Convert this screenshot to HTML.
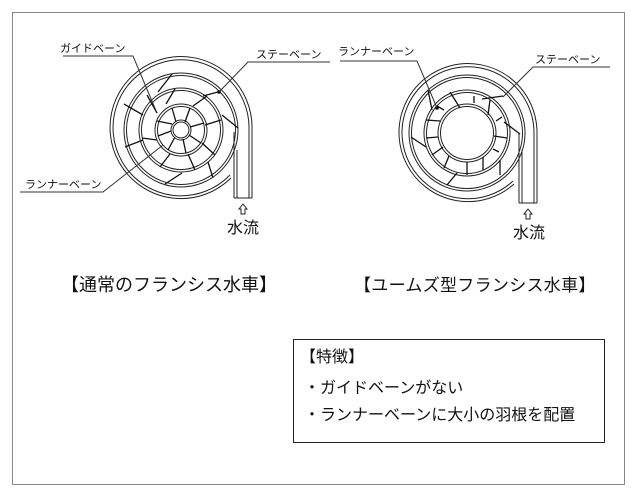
<!DOCTYPE html>
<html><head><meta charset="utf-8"><style>
html,body{margin:0;padding:0;background:#fff;}
svg{display:block;}
text{font-family:"Liberation Sans","Noto Sans CJK JP",sans-serif;fill:#111;}
</style></head><body>
<svg width="640" height="500" viewBox="0 0 640 500" xmlns="http://www.w3.org/2000/svg">
<rect x="12.5" y="12.5" width="612" height="472" fill="none" stroke="#888" stroke-width="1"/>

<!-- LEFT DIAGRAM -->
<g fill="none" stroke="#222" stroke-width="1">
  <path d="M252,198 L252,130 A71,71 0 1,0 231,178"/>
  <path d="M249,198 L249,130 A68,68 0 1,0 230,175"/>
  <path d="M234,198 L234,132"/>
  <path d="M237,198 L237,150"/>
  <line x1="234" y1="198" x2="252" y2="198"/>
  <circle cx="181" cy="130" r="57"/>
  <circle cx="181" cy="130" r="54.5"/>
  <circle cx="181" cy="130" r="42"/>
  <circle cx="181" cy="130" r="39.5"/>
  <circle cx="181" cy="130" r="26"/>
  <circle cx="181" cy="130" r="23.5"/>
  <circle cx="181" cy="130" r="10"/>
  <circle cx="181" cy="130" r="8"/>
</g>
<g stroke="#111" stroke-width="1.3">
  <line x1="172" y1="74" x2="158" y2="92"/>
  <line x1="124" y1="104" x2="143" y2="115"/>
  <line x1="125" y1="147" x2="143" y2="140"/>
  <line x1="165" y1="184" x2="182" y2="173"/>
  <line x1="218" y1="92" x2="203" y2="96"/>
  <line x1="238" y1="128" x2="222" y2="115"/>
  <line x1="213" y1="178" x2="208" y2="162"/>
  <line x1="157" y1="113" x2="147" y2="95"/>
  <line x1="166" y1="104" x2="175" y2="89"/>
  <line x1="193" y1="106" x2="207" y2="96"/>
  <line x1="205" y1="125" x2="221" y2="120"/>
  <line x1="202" y1="143" x2="215" y2="155"/>
  <line x1="188" y1="154" x2="195" y2="170"/>
  <line x1="170" y1="154" x2="160" y2="167"/>
  <line x1="157" y1="140" x2="142" y2="138"/>
  <line x1="172" y1="124" x2="157" y2="121"/>
  <line x1="176" y1="122" x2="172" y2="108"/>
  <line x1="185" y1="122" x2="190" y2="108"/>
  <line x1="190" y1="127" x2="204" y2="123"/>
  <line x1="189" y1="135" x2="201" y2="143"/>
  <line x1="183" y1="139" x2="186" y2="153"/>
  <line x1="175" y1="137" x2="168" y2="150"/>
  <line x1="171" y1="131" x2="158" y2="136"/>
</g>
<g stroke="#333" stroke-width="1" fill="none">
  <polyline points="63,56 133,56 157,113"/>
  <polyline points="330,62 248,62 219,92"/>
  <polyline points="20,192 103,192 163,145"/>
</g>
<circle cx="219" cy="92" r="1.8" fill="#111"/>
<text x="60" y="52" font-size="11">ガイドベーン</text>
<text x="256" y="58" font-size="11">ステーベーン</text>
<text x="25" y="188" font-size="11">ランナーベーン</text>
<path d="M243,204 L247,209 L245,209 L245,214 L241,214 L241,209 L239,209 Z" fill="none" stroke="#222" stroke-width="1"/>
<text x="227" y="233" font-size="16">水流</text>

<!-- RIGHT DIAGRAM -->
<g fill="none" stroke="#222" stroke-width="1">
  <path d="M537,203 L537,133 A69,69 0 1,0 514,184"/>
  <path d="M534,203 L534,133 A66,66 0 1,0 513,181"/>
  <path d="M519,203 L519,133"/>
  <path d="M522,203 L522,150"/>
  <line x1="519" y1="203" x2="537" y2="203"/>
  <circle cx="467" cy="133" r="58"/>
  <circle cx="467" cy="133" r="55.5"/>
  <circle cx="467" cy="133" r="43"/>
  <circle cx="467" cy="133" r="40.5"/>
  <circle cx="467" cy="133" r="29"/>
  <circle cx="467" cy="133" r="26.5"/>
</g>
<g stroke="#111" stroke-width="1.3">
  <line x1="428" y1="90" x2="432" y2="110"/>
  <line x1="411" y1="137" x2="426" y2="147"/>
  <line x1="447" y1="185" x2="457" y2="173"/>
  <line x1="503" y1="96" x2="482" y2="99"/>
  <line x1="520" y1="134" x2="504" y2="122"/>
  <line x1="500" y1="175" x2="500" y2="160"/>
  <line x1="450" y1="92" x2="460" y2="108"/>
  <line x1="490" y1="100" x2="488" y2="115"/>
  <line x1="507" y1="138" x2="494" y2="136"/>
  <line x1="483" y1="170" x2="483" y2="157"/>
  <line x1="444" y1="168" x2="449" y2="156"/>
  <line x1="426" y1="120" x2="440" y2="121"/>
  <line x1="432" y1="155" x2="443" y2="147"/>
  <line x1="437" y1="106" x2="444" y2="110"/>
  <line x1="474" y1="96" x2="474" y2="103"/>
  <line x1="502" y1="117" x2="496" y2="121"/>
  <line x1="499" y1="152" x2="493" y2="149"/>
  <line x1="467" y1="175" x2="467" y2="162"/>
  <line x1="426" y1="138" x2="438" y2="137"/>
</g>
<g stroke="#333" stroke-width="1" fill="none">
  <polyline points="340,61 417,61 437,108"/>
  <polyline points="610,67 533,67 503,97"/>
</g>
<circle cx="437" cy="108" r="1.8" fill="#111"/>
<text x="338" y="55" font-size="11">ランナーベーン</text>
<text x="535" y="63" font-size="11">ステーベーン</text>
<path d="M528,209 L532,214 L530,214 L530,219 L526,219 L526,214 L524,214 Z" fill="none" stroke="#222" stroke-width="1"/>
<text x="513" y="238" font-size="16">水流</text>

<!-- titles -->
<text x="61" y="291" font-size="18">【通常のフランシス水車】</text>
<text x="354" y="291" font-size="17" letter-spacing="0.3">【ユームズ型フランシス水車】</text>

<!-- feature box -->
<rect x="293.5" y="339.5" width="311" height="103" fill="#fff" stroke="#222" stroke-width="1"/>
<text x="300" y="362" font-size="16">【特徴】</text>
<text x="304" y="393" font-size="16">・ガイドベーンがない</text>
<text x="304" y="420" font-size="16">・ランナーベーンに大小の羽根を配置</text>
</svg>
</body></html>
